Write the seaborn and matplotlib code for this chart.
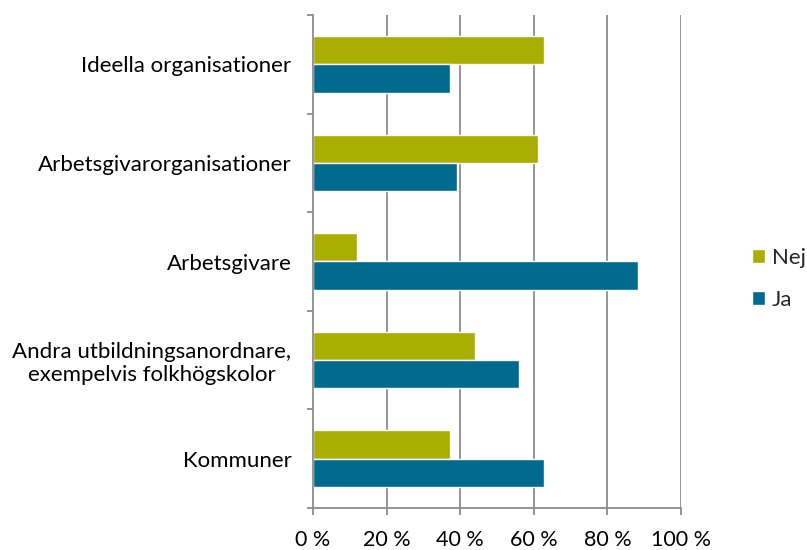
import matplotlib
matplotlib.use("Agg")
import matplotlib.pyplot as plt
import seaborn as sns
import pandas as pd
import numpy as np
from matplotlib.ticker import FixedLocator, FuncFormatter

categories = [
    "Ideella organisationer",
    "Arbetsgivarorganisationer",
    "Arbetsgivare",
    "Andra utbildningsanordnare,\nexempelvis folkhögskolor",
    "Kommuner",
]
nej = [62.7, 61.1, 11.9, 44.1, 37.3]
ja = [37.3, 39.0, 88.2, 56.0, 62.7]
series = ["Nej", "Ja"]
colors = ["#AAAE00", "#006B8E"]
xticks = [0, 20, 40, 60, 80, 100]

df = pd.DataFrame({
    "kategori": categories * 2,
    "serie": ["Nej"] * len(categories) + ["Ja"] * len(categories),
    "varde": nej + ja,
})

sns.set_theme(style="white")
plt.rcParams["font.family"] = ["Lato", "DejaVu Sans"]

fig = plt.figure(figsize=(8.07, 5.5), dpi=100)
ax = fig.add_axes([313 / 807, 1 - 508 / 550, (681 - 313) / 807, (508 - 15) / 550])

sns.barplot(data=df, y="kategori", x="varde", hue="serie", order=categories,
            hue_order=series, palette=colors, orient="h", width=0.575,
            saturation=1, ax=ax, legend=True)

ax.set_xlim(0, 100)
ax.set_ylim(len(categories) - 0.5, -0.5)
ax.set_xlabel("")
ax.set_ylabel("")

gridc = "#8C8C8C"
ax.xaxis.set_major_locator(FixedLocator(xticks))
ax.xaxis.set_major_formatter(FuncFormatter(lambda v, p: f"{v:.0f} %"))
for t in xticks[1:]:
    ax.axvline(t, color=gridc, lw=1.3, zorder=0)

ax.yaxis.set_minor_locator(FixedLocator(np.arange(-0.5, len(categories), 1.0)))
ax.tick_params(axis="y", which="major", length=0, pad=15.5, labelsize=16, colors="#000000")
ax.tick_params(axis="y", which="minor", length=4.5, width=1.3, color=gridc, left=True)
ax.tick_params(axis="x", which="major", length=5, width=1.3, color=gridc, pad=11,
               labelsize=15.5, bottom=True, labelcolor="#000000")
for lbl in ax.get_yticklabels():
    lbl.set_multialignment("center")

for s in ["top", "right"]:
    ax.spines[s].set_visible(False)
for s in ["left", "bottom"]:
    ax.spines[s].set_color(gridc)
    ax.spines[s].set_linewidth(1.3)

handles, labels = ax.get_legend_handles_labels()
ax.legend(handles, labels, loc="center left",
          bbox_to_anchor=(752 / 807, 1 - 279 / 550), bbox_transform=fig.transFigure,
          frameon=False, fontsize=16, borderpad=0, borderaxespad=0,
          handlelength=0.6, handleheight=0.6, handletextpad=0.3, labelspacing=1.0)

fig.savefig("out.png", dpi=100)
